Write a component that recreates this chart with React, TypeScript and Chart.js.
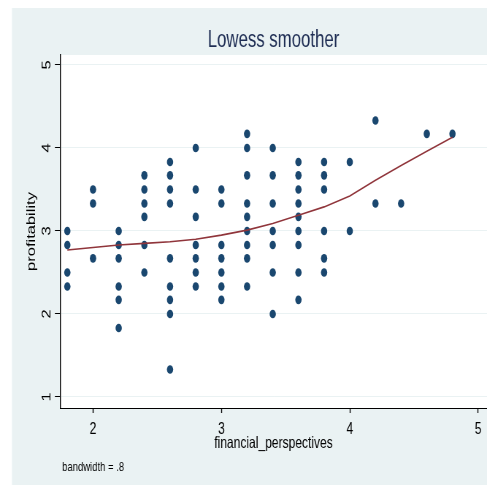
import React, { useEffect, useRef } from 'react';
import { Chart, registerables } from 'chart.js';

Chart.register(...registerables);

// ---- data ----
const financialPerspectives = [
  1.8, 1.8, 1.8, 1.8,
  2.0, 2.0, 2.0,
  2.2, 2.2, 2.2, 2.2, 2.2, 2.2,
  2.4, 2.4, 2.4, 2.4, 2.4, 2.4,
  2.6, 2.6, 2.6, 2.6, 2.6, 2.6, 2.6, 2.6, 2.6,
  2.8, 2.8, 2.8, 2.8, 2.8, 2.8, 2.8,
  3.0, 3.0, 3.0, 3.0, 3.0, 3.0, 3.0,
  3.2, 3.2, 3.2, 3.2, 3.2, 3.2, 3.2, 3.2, 3.2,
  3.4, 3.4, 3.4, 3.4, 3.4, 3.4, 3.4,
  3.6, 3.6, 3.6, 3.6, 3.6, 3.6, 3.6, 3.6, 3.6,
  3.8, 3.8, 3.8, 3.8, 3.8, 3.8,
  4.0, 4.0,
  4.2, 4.2,
  4.4,
  4.6,
  4.8,
];
const profitability = [
  3.0, 2.83, 2.5, 2.33,
  3.5, 3.33, 2.67,
  3.0, 2.83, 2.67, 2.33, 2.17, 1.83,
  3.67, 3.5, 3.33, 3.17, 2.83, 2.5,
  3.83, 3.67, 3.5, 3.33, 2.67, 2.33, 2.17, 2.0, 1.33,
  4.0, 3.5, 3.17, 2.83, 2.67, 2.5, 2.33,
  3.5, 3.33, 2.83, 2.67, 2.5, 2.33, 2.17,
  4.17, 4.0, 3.67, 3.33, 3.17, 3.0, 2.83, 2.67, 2.33,
  4.0, 3.67, 3.33, 3.0, 2.83, 2.5, 2.0,
  3.83, 3.67, 3.5, 3.33, 3.17, 3.0, 2.83, 2.5, 2.17,
  3.83, 3.67, 3.5, 3.0, 2.67, 2.5,
  3.83, 3.0,
  4.33, 3.33,
  3.33,
  4.17,
  4.17,
];
const lowessX = [1.8, 2.0, 2.2, 2.4, 2.6, 2.8, 3.0, 3.2, 3.4, 3.6, 3.8, 4.0, 4.2, 4.4, 4.6, 4.8];
const lowessY = [2.77, 2.80, 2.83, 2.85, 2.87, 2.90, 2.95, 3.01, 3.09, 3.19, 3.29, 3.42, 3.61, 3.79, 3.96, 4.13];
const xTickValues = [2, 3, 4, 5];
const yTickValues = [1, 2, 3, 4, 5];
const chartTitle = 'Lowess smoother';
const xAxisTitle = 'financial_perspectives';
const yAxisTitle = 'profitability';
const noteText = 'bandwidth = .8';

// ---- drawing constants ----
const W = 667; // logical width (displayed squeezed to 487px like the reference)
const H = 486;
const FONT = '"Liberation Sans", Arial, Helvetica, sans-serif';
const PANEL = '#eaf2f3';
const NAVY = '#1a476f';
const MAROON = '#90353b';

const backgroundPlugin = {
  id: 'stataBackground',
  beforeDraw(chart: any) {
    const { ctx, chartArea } = chart;
    ctx.save();
    ctx.fillStyle = '#ffffff';
    ctx.fillRect(0, 0, W, H);
    ctx.fillStyle = PANEL;
    ctx.fillRect(16.4, 8, W - 16.4, 485 - 8);
    ctx.fillStyle = '#ffffff';
    ctx.fillRect(chartArea.left, chartArea.top, chartArea.right - chartArea.left, chartArea.bottom - chartArea.top);
    ctx.restore();
  },
  afterDraw(chart: any) {
    const { ctx, chartArea } = chart;
    ctx.save();
    ctx.fillStyle = '#1f2e54';
    ctx.font = `23px ${FONT}`;
    ctx.textAlign = 'center';
    ctx.textBaseline = 'alphabetic';
    ctx.fillText(chartTitle, (chartArea.left + chartArea.right) / 2, 47);
    ctx.fillStyle = '#000000';
    ctx.font = `13px ${FONT}`;
    ctx.textAlign = 'left';
    ctx.fillText(noteText, 85, 471);
    ctx.restore();
  },
};

export default function App() {
  const ref = useRef<HTMLCanvasElement | null>(null);

  useEffect(() => {
    if (!ref.current) return;
    const points = financialPerspectives.map((x, i) => ({ x, y: profitability[i] }));
    const smooth = lowessX.map((x, i) => ({ x, y: lowessY[i] }));
    const chart = new Chart(ref.current, {
      type: 'scatter',
      data: {
        datasets: [
          {
            type: 'line',
            label: 'lowess',
            data: smooth,
            borderColor: MAROON,
            borderWidth: 1.6,
            pointRadius: 0,
            tension: 0,
            fill: false,
          } as any,
          {
            label: 'profitability',
            data: points,
            backgroundColor: NAVY,
            borderColor: NAVY,
            borderWidth: 0,
            pointRadius: 4.3,
            pointHoverRadius: 4.3,
          },
        ],
      },
      options: {
        responsive: false,
        animation: false,
        devicePixelRatio: 1,
        layout: { autoPadding: false, padding: { left: 16.4, top: 55, right: 0, bottom: 0 } },
        plugins: {
          legend: { display: false },
          tooltip: { enabled: false },
          title: { display: false },
        },
        scales: {
          x: {
            type: 'linear',
            min: 1.743,
            max: 5.069,
            afterBuildTicks: (s: any) => {
              s.ticks = xTickValues.map((v) => ({ value: v }));
            },
            afterFit: (s: any) => {
              s.height = 78;
              s.paddingLeft = 0;
              s.paddingRight = 0;
            },
            grid: {
              drawOnChartArea: false,
              drawTicks: true,
              tickLength: 5,
              tickColor: '#000000',
              tickWidth: 1.37,
            },
            border: { display: true, color: '#000000', width: 1 },
            ticks: {
              color: '#000000',
              font: { family: FONT, size: 16.5 },
              padding: 7,
              minRotation: 0,
              maxRotation: 0,
              autoSkip: false,
            },
            title: {
              display: true,
              text: xAxisTitle,
              color: '#000000',
              font: { family: FONT, size: 16.5 },
              padding: { top: 0, bottom: 32.6 },
            },
          },
          y: {
            type: 'linear',
            min: 0.867,
            max: 5.12,
            afterBuildTicks: (s: any) => {
              s.ticks = yTickValues.map((v) => ({ value: v }));
            },
            afterFit: (s: any) => {
              s.width = 65.8;
              s.paddingTop = 0;
              s.paddingBottom = 0;
            },
            grid: {
              color: PANEL,
              lineWidth: 1,
              drawOnChartArea: true,
              drawTicks: true,
              tickLength: 7,
              tickColor: '#000000',
              tickWidth: 1,
            },
            border: { display: true, color: '#000000', width: 1.37 },
            ticks: {
              color: '#000000',
              font: { family: FONT, size: 16.5 },
              padding: 6.6,
              minRotation: 90,
              maxRotation: 90,
              crossAlign: 'center',
              autoSkip: false,
            },
            title: {
              display: true,
              text: yAxisTitle,
              color: '#000000',
              font: { family: FONT, size: 16.5 },
              padding: { top: 17.6, bottom: 0 },
            },
          },
        },
      },
      plugins: [backgroundPlugin],
    });
    return () => chart.destroy();
  }, []);

  return (
    <div style={{ position: 'absolute', left: 0, top: 0, width: 487, height: 486 }}>
      <canvas
        ref={ref}
        width={W}
        height={H}
        style={{ width: '487px', height: '486px', display: 'block' }}
      />
    </div>
  );
}
